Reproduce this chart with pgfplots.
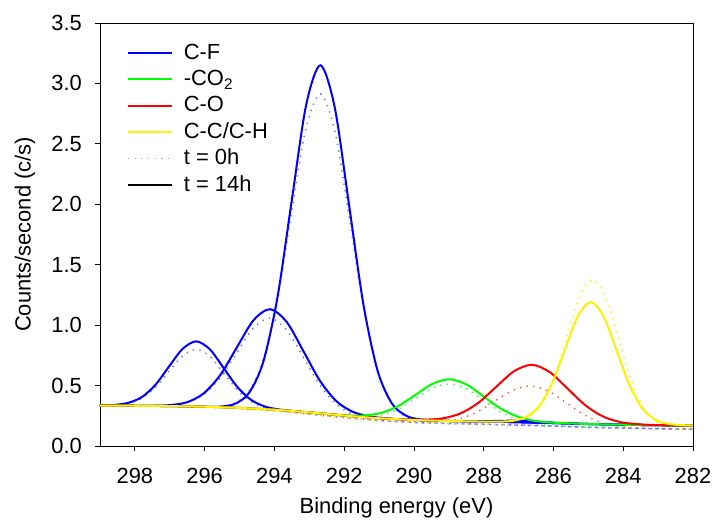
\documentclass[border=0pt]{standalone}
\usepackage{fontspec}
\setmainfont{Liberation Sans}
\usepackage{pgfplots}
\pgfplotsset{compat=1.18}

\pgfplotsset{
  fit/.style={line width=2bp, smooth, tension=0.5},
  raw/.style={line width=1.5bp, smooth, tension=0.5, dash pattern=on 1.2bp off 5.5bp},
}

\begin{document}
\begin{tikzpicture}
\path[use as bounding box] (-100bp,-86bp) rectangle (616bp,446bp);
\begin{axis}[
  at={(0,0)}, anchor=south west,
  scale only axis,
  width=593bp, height=423bp,
  x dir=reverse,
  xmin=282, xmax=299,
  ymin=0, ymax=3.5,
  xtick={282,284,...,298},
  ytick={0,0.5,...,3.5},
  /pgf/number format/assume math mode=true,
  tick align=outside,
  xtick pos=bottom, ytick pos=left,
  major tick length=5bp,
  tick style={black, line width=0.8bp},
  axis line style={black, line width=0.9bp},
  tick label style={font=\fontsize{22}{26}\selectfont},
  xticklabel style={anchor=north, inner sep=0pt},
  yticklabel style={anchor=east, inner sep=0pt,
    /pgf/number format/fixed, /pgf/number format/fixed zerofill,
    /pgf/number format/precision=1},
  xticklabel shift=17bp,
  yticklabel shift=13bp,
  label style={font=\fontsize{22}{26}\selectfont},
  xlabel={Binding energy (eV)},
  ylabel={Counts/second (c/s)},
  xlabel style={at={(axis description cs:0.5,-0.1466)}, anchor=center},
  ylabel style={at={(axis description cs:-0.1265,0.5)}, anchor=center},
  legend image code/.code={\draw[#1] (0bp,0bp) -- (44bp,0bp);},
  legend cell align=left,
  legend style={at={(axis description cs:0.045,0.953)}, anchor=north west,
    draw=none, fill=none, inner sep=0pt, row sep=6.4bp, column sep=11bp,
    font=\fontsize{22}{26}\selectfont,
    nodes={inner sep=0pt, text height=16bp, text depth=4bp}},
]

% ---- t = 0h (dotted) ----
\addplot[raw, blue!60, forget plot] coordinates {
(299,0.335) (298.58,0.340) (298.19,0.354) (297.80,0.396) (297.41,0.485) (297.02,0.618)
(296.63,0.746) (296.24,0.800) (295.85,0.741) (295.46,0.605) (295.07,0.466) (294.68,0.369)
(294.29,0.318) (293.90,0.294) (293.51,0.280) (293,0.264) (292.5,0.249) (292,0.234)
(291.5,0.221) (291,0.210) (290,0.195) (289,0.186) (288,0.180) (287,0.173) (286,0.165)
(285,0.155) (284,0.148) (283,0.143) (282,0.140)};
\addplot[raw, blue!60, forget plot] coordinates {
(299,0.335) (298,0.333) (297.445,0.333) (296.97,0.338) (296.495,0.361) (296.02,0.429)
(295.545,0.567) (295.07,0.776) (294.595,0.979) (294.12,1.059) (293.645,0.958) (293.17,0.733)
(292.695,0.503) (292.22,0.344) (291.745,0.261) (291.27,0.224) (290.795,0.208) (290,0.195)
(289,0.186) (288,0.180) (287,0.173) (286,0.165) (285,0.155) (284,0.148) (283,0.143) (282,0.140)};
\addplot[raw, blue!60, forget plot] coordinates {
(299,0.335) (298,0.333) (297,0.330) (296,0.325) (295.655,0.326) (295.23,0.344) (294.805,0.424)
(294.38,0.659) (293.955,1.154) (293.53,1.893) (293.105,2.615) (292.68,2.914) (292.255,2.589)
(291.83,1.843) (291.405,1.083) (290.98,0.570) (290.555,0.320) (290.13,0.226) (289.705,0.199)
(289,0.186) (288,0.180) (287,0.173) (286,0.165) (285,0.155) (284,0.148) (283,0.143) (282,0.140)};
\addplot[raw, green!80, forget plot] coordinates {
(299,0.335) (298,0.333) (297,0.330) (296,0.325) (295,0.311) (294,0.291) (293,0.264)
(292.375,0.246) (291.89,0.235) (291.405,0.233) (290.92,0.253) (290.435,0.307) (289.95,0.393)
(289.465,0.479) (288.98,0.513) (288.495,0.472) (288.01,0.378) (287.525,0.283) (287.04,0.218)
(286.555,0.184) (286.07,0.169) (285.585,0.162) (285,0.155) (284,0.148) (283,0.143) (282,0.140)};
\addplot[raw, red!70, forget plot] coordinates {
(299,0.335) (298,0.333) (297,0.330) (296,0.325) (295,0.311) (294,0.291) (293,0.264) (292,0.234)
(291,0.210) (290.15,0.198) (289.65,0.196) (289.15,0.202) (288.65,0.228) (288.15,0.287)
(287.65,0.376) (287.15,0.463) (286.65,0.497) (286.15,0.455) (285.65,0.360) (285.15,0.263)
(284.65,0.196) (284.15,0.163) (283.65,0.150) (283.15,0.144) (282.5,0.141) (282,0.140)};
\addplot[raw, yellow, forget plot] coordinates {
(299,0.335) (298,0.333) (297,0.330) (296,0.325) (295,0.311) (294,0.291) (293,0.264) (292,0.234)
(291,0.210) (290,0.195) (289,0.186) (288,0.180) (287.47,0.180) (287.10,0.187) (286.73,0.224)
(286.36,0.333) (285.99,0.561) (285.62,0.901) (285.25,1.234) (284.88,1.374) (284.51,1.228)
(284.14,0.889) (283.77,0.543) (283.40,0.310) (283.03,0.197) (282.66,0.155) (282.29,0.143) (282,0.140)};

% ---- t = 14h (solid) ----
\addplot[fit, blue, forget plot] coordinates {
(299,0.335) (298.58,0.340) (298.19,0.357) (297.80,0.405) (297.41,0.506) (297.02,0.658)
(296.63,0.804) (296.24,0.866) (295.85,0.800) (295.46,0.647) (295.07,0.491) (294.68,0.384)
(294.29,0.328) (293.90,0.304) (293.51,0.291) (293,0.278) (292.5,0.265) (292,0.252)
(291.5,0.240) (291,0.230) (290,0.215) (289,0.207) (288,0.202) (287,0.197) (286,0.190)
(285,0.182) (284,0.176) (283,0.172) (282,0.170)};
\addplot[fit, blue, forget plot] coordinates {
(299,0.335) (298.5,0.334) (298,0.333) (297.445,0.333) (296.97,0.339) (296.495,0.363)
(296.02,0.437) (295.545,0.590) (295.07,0.819) (294.595,1.042) (294.12,1.132) (293.645,1.025)
(293.17,0.786) (292.695,0.540) (292.22,0.370) (291.745,0.282) (291.27,0.245) (290.795,0.229)
(290,0.215) (289,0.207) (288,0.202) (287,0.197) (286,0.190) (285,0.182) (284,0.176)
(283,0.172) (282,0.170)};
\addplot[fit, blue, forget plot] coordinates {
(299,0.335) (298,0.333) (297,0.330) (296,0.325) (295.55,0.326) (295.14,0.348) (294.73,0.438)
(294.32,0.695) (293.91,1.233) (293.50,2.037) (293.09,2.822) (292.68,3.150) (292.27,2.801)
(291.86,1.995) (291.45,1.174) (291.04,0.621) (290.63,0.351) (290.22,0.250) (289.81,0.220)
(289,0.207) (288,0.202) (287,0.197) (286,0.190) (285,0.182) (284,0.176) (283,0.172) (282,0.170)};
\addplot[fit, blue, forget plot] coordinates {
(288.2,0.203) (287.6,0.208) (287.3,0.209) (287.0,0.209) (286.7,0.206) (286.4,0.200) (285.8,0.190)};
\addplot[fit, green, forget plot] coordinates {
(299,0.335) (298,0.333) (297,0.330) (296,0.325) (295,0.315) (294,0.300) (293,0.278)
(292.375,0.263) (291.89,0.253) (291.405,0.253) (290.92,0.275) (290.435,0.333) (289.95,0.424)
(289.465,0.515) (288.98,0.552) (288.495,0.509) (288.01,0.411) (287.525,0.312) (287.04,0.244)
(286.555,0.209) (286.07,0.194) (285.585,0.188) (285,0.182) (284,0.176) (283,0.172) (282,0.170)};
\addplot[fit, red, forget plot] coordinates {
(299,0.335) (298,0.333) (297,0.330) (296,0.325) (295,0.315) (294,0.300) (293,0.278) (292,0.252)
(291,0.230) (290.19,0.219) (289.68,0.218) (289.17,0.229) (288.66,0.270) (288.15,0.358)
(287.64,0.490) (287.13,0.619) (286.62,0.672) (286.11,0.612) (285.60,0.476) (285.09,0.338)
(284.58,0.244) (284.07,0.197) (283.56,0.180) (283.05,0.173) (282.5,0.171) (282,0.170)};
\addplot[fit, yellow, forget plot] coordinates {
(299,0.335) (298,0.333) (297,0.330) (296,0.325) (295,0.315) (294.5,0.308) (294,0.300)
(293.5,0.290) (293,0.278) (292.5,0.265) (292,0.252) (291.5,0.240) (291,0.230) (290,0.215)
(289,0.207) (288,0.202) (287.52,0.202) (287.15,0.209) (286.78,0.240) (286.41,0.330)
(286.04,0.518) (285.67,0.799) (285.30,1.075) (284.93,1.191) (284.56,1.070) (284.19,0.789)
(283.82,0.503) (283.45,0.310) (283.08,0.217) (282.71,0.183) (282.34,0.173) (282,0.170)};

% ---- legend ----
\addlegendimage{blue, line width=2bp}
\addlegendentry{C-F}
\addlegendimage{green, line width=2bp}
\addlegendentry{-CO\textsubscript{2}}
\addlegendimage{red, line width=2bp}
\addlegendentry{C-O}
\addlegendimage{yellow, line width=2bp}
\addlegendentry{C-C/C-H}
\addlegendimage{gray!70, line width=1.5bp, dash pattern=on 1.2bp off 5.5bp}
\addlegendentry{t = 0h}
\addlegendimage{black, line width=2bp}
\addlegendentry{t = 14h}
\end{axis}
\end{tikzpicture}
\end{document}
